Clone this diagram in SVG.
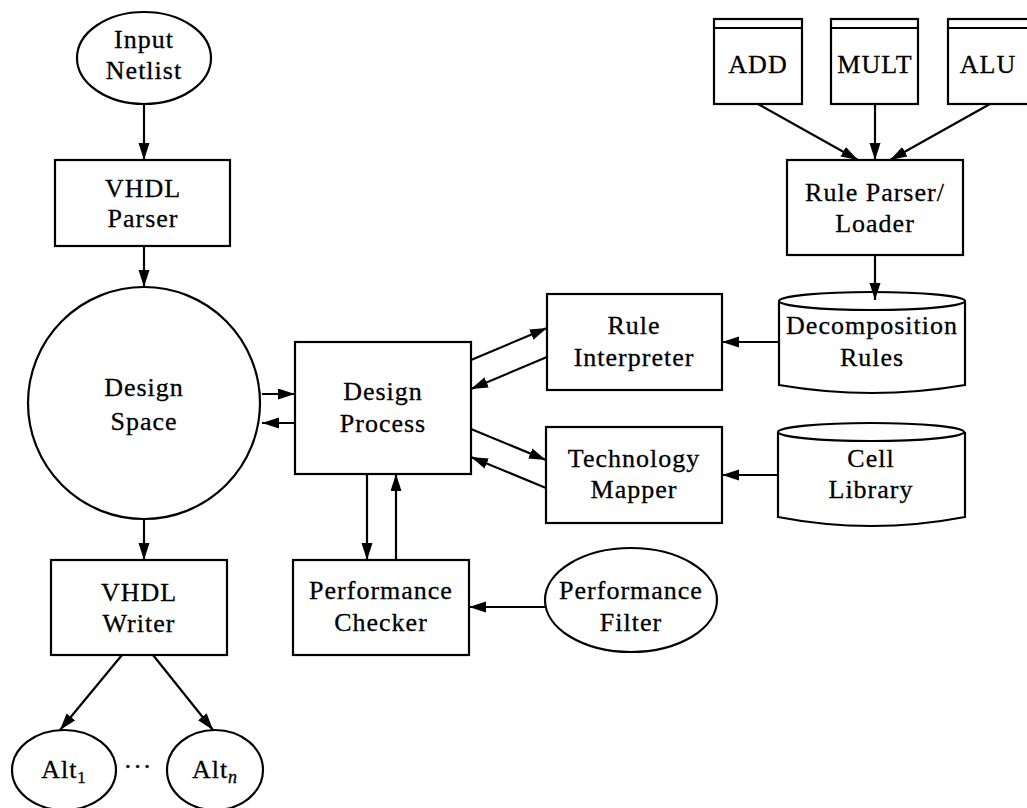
<svg xmlns="http://www.w3.org/2000/svg" width="1027" height="808" viewBox="0 0 1027 808">
<style>
.s{fill:#fff;stroke:#000;stroke-width:2.2}
.t{font-family:"Liberation Serif","Times New Roman",serif;font-size:26px;letter-spacing:1px;text-anchor:middle;fill:#000;stroke:#000;stroke-width:0.3}
.c{fill:none;stroke:#000;stroke-width:2.2}
</style>
<defs>
<marker id="ah" markerUnits="userSpaceOnUse" markerWidth="18" markerHeight="12" refX="17" refY="5.5" orient="auto">
<path d="M0,0 L17,5.5 L0,11 z" fill="#000"/>
</marker>
</defs>
<rect width="1027" height="808" fill="#fff"/>
<g id="input-netlist"><ellipse class="s" cx="144" cy="58" rx="67" ry="46"/><text class="t" x="144" y="48">Input</text><text class="t" x="144" y="79">Netlist</text></g>
<g id="vhdl-parser"><rect class="s" x="55" y="160" width="175" height="86"/><text class="t" x="143" y="197">VHDL</text><text class="t" x="143" y="227">Parser</text></g>
<g id="design-space"><circle class="s" cx="144" cy="403" r="116"/><text class="t" x="144" y="396">Design</text><text class="t" x="144" y="430">Space</text></g>
<g id="vhdl-writer"><rect class="s" x="51" y="560" width="176" height="95"/><text class="t" x="139" y="601">VHDL</text><text class="t" x="139" y="632">Writer</text></g>
<g id="alt1"><ellipse class="s" cx="64" cy="770" rx="52" ry="40"/><text class="t" x="64" y="778">Alt<tspan font-size="17" dy="5">1</tspan></text></g>
<g id="altn"><ellipse class="s" cx="215" cy="770" rx="48" ry="40"/><text class="t" x="215" y="778">Alt<tspan font-size="18" font-style="italic" dy="5">n</tspan></text></g>
<text class="t" x="138" y="775" letter-spacing="4">···</text>
<g id="design-process"><rect class="s" x="295" y="342" width="176" height="132"/><text class="t" x="383" y="400">Design</text><text class="t" x="383" y="432">Process</text></g>
<g id="performance-checker"><rect class="s" x="293" y="560" width="176" height="95"/><text class="t" x="381" y="599">Performance</text><text class="t" x="381" y="631">Checker</text></g>
<g id="performance-filter"><ellipse class="s" cx="631" cy="600" rx="86" ry="52"/><text class="t" x="631" y="599">Performance</text><text class="t" x="631" y="631">Filter</text></g>
<g id="rule-interpreter"><rect class="s" x="547" y="294" width="175" height="96"/><text class="t" x="634" y="334">Rule</text><text class="t" x="634" y="366">Interpreter</text></g>
<g id="technology-mapper"><rect class="s" x="546" y="427" width="176" height="96"/><text class="t" x="634" y="467">Technology</text><text class="t" x="634" y="498">Mapper</text></g>
<g id="decomposition-rules"><path class="s" d="M779,301 L779,385 Q872,401 965,385 L965,301"/><ellipse class="s" cx="872" cy="301" rx="93" ry="9"/><text class="t" x="872" y="334">Decomposition</text><text class="t" x="872" y="366">Rules</text></g>
<g id="cell-library"><path class="s" d="M778,432 L778,517 Q871,535 965,517 L965,432"/><ellipse class="s" cx="871" cy="432" rx="93" ry="9"/><text class="t" x="871" y="467">Cell</text><text class="t" x="871" y="498">Library</text></g>
<g id="rule-parser"><rect class="s" x="787" y="160" width="176" height="95"/><text class="t" x="875" y="201">Rule Parser/</text><text class="t" x="875" y="232">Loader</text></g>
<g id="add"><rect class="s" x="714" y="19" width="88" height="85"/><line class="c" x1="714" y1="28" x2="802" y2="28"/><text class="t" x="758" y="73">ADD</text></g>
<g id="mult"><rect class="s" x="831" y="19" width="87" height="85"/><line class="c" x1="831" y1="28" x2="918" y2="28"/><text class="t" x="875" y="73">MULT</text></g>
<g id="alu"><rect class="s" x="948" y="19" width="90" height="85"/><line class="c" x1="948" y1="28" x2="1038" y2="28"/><text class="t" x="988" y="73">ALU</text></g>
<g id="connectors" class="c" marker-end="url(#ah)">
<line x1="144" y1="104" x2="144" y2="160"/>
<line x1="144" y1="246" x2="144" y2="287"/>
<line x1="144" y1="519" x2="144" y2="560"/>
<line x1="122" y1="655" x2="60" y2="730"/>
<line x1="153" y1="655" x2="213" y2="730"/>
<line x1="262" y1="394" x2="295" y2="394"/>
<line x1="295" y1="423" x2="262" y2="423"/>
<line x1="471" y1="360" x2="547" y2="328"/>
<line x1="547" y1="357" x2="471" y2="389"/>
<line x1="471" y1="429" x2="546" y2="460"/>
<line x1="546" y1="488" x2="471" y2="457"/>
<line x1="367" y1="474" x2="367" y2="560"/>
<line x1="396" y1="560" x2="396" y2="474"/>
<line x1="545" y1="607" x2="469" y2="607"/>
<line x1="779" y1="342" x2="722" y2="342"/>
<line x1="778" y1="475" x2="722" y2="475"/>
<line x1="875" y1="255" x2="875" y2="300"/>
<line x1="758" y1="104" x2="858" y2="160"/>
<line x1="875" y1="104" x2="875" y2="160"/>
<line x1="990" y1="104" x2="890" y2="160"/>
</g>
</svg>
